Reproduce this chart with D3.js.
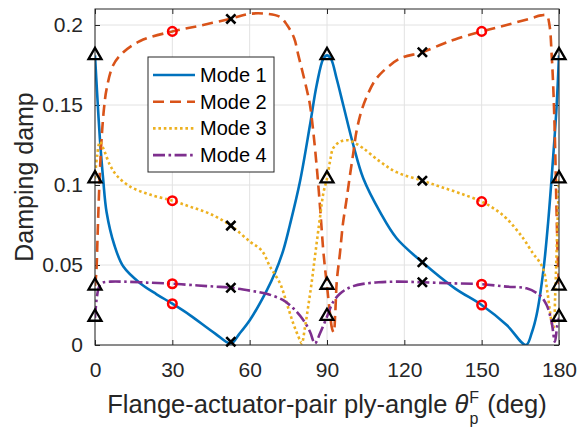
<!DOCTYPE html>
<html><head><meta charset="utf-8">
<script src="https://cdn.jsdelivr.net/npm/d3@7"></script>
<style>
body{margin:0;background:#fff;}
text{font-family:"Liberation Sans",Arial,Helvetica,sans-serif;}
</style></head>
<body><svg id="chart" width="577" height="433"></svg>
<script>
// ---------- data ----------
const modeNames = ["Mode 1","Mode 2","Mode 3","Mode 4"];
const modeColors = ["#0072BD","#D95319","#EDB120","#7E2F8E"];

const mode1Angle = [0,0.8,1.9,3.2,4.5,7.5,11,17.5,23.9,30,36.8,46.5,52.7,56,60.1,66.6,69.8,73,75.6,79.5,83.4,86,88.6,90,91.5,93.7,96.3,100.2,104.1,110.6,117,127,139.6,150,159.7,167.2,169.5,171.3,173.9,175.8,177.8,179.1,180];
const mode1Damp  = [0.181,0.158,0.129,0.103,0.083,0.0625,0.049,0.0386,0.0317,0.0258,0.0187,0.0073,0.001,0.007,0.0156,0.034,0.045,0.059,0.075,0.102,0.1375,0.1625,0.179,0.181,0.179,0.1667,0.15,0.125,0.104,0.083,0.0667,0.0517,0.0354,0.025,0.0125,0.0,0.008,0.0187,0.046,0.077,0.119,0.15,0.181];

const mode2Angle = [0,0.5,1.0,1.5,2.0,2.6,3.5,4.5,7.1,11,17.5,30,40.7,52.7,60.1,66.6,71.8,74.5,77.2,78.9,80.3,82.1,83.4,84.7,86.2,87.5,88.5,89.3,90,91,92,92.6,93.2,93.8,95,96.2,97.5,98.9,100.2,101.5,103.5,105.9,108.5,111.7,118.3,127,134.6,139.6,150,159.7,168.7,173,175.2,176.3,177.2,177.8,178.4,179.1,179.6,180];
const mode2Damp  = [0.037,0.045,0.068,0.092,0.112,0.13,0.148,0.16,0.175,0.183,0.19,0.196,0.1996,0.204,0.207,0.207,0.205,0.2,0.192,0.181,0.172,0.16,0.15,0.133,0.108,0.082,0.06,0.047,0.037,0.022,0.01,0.008,0.02,0.04,0.057,0.076,0.09,0.106,0.12,0.134,0.147,0.157,0.165,0.171,0.179,0.183,0.188,0.191,0.196,0.2,0.204,0.206,0.206,0.2,0.18,0.16,0.13,0.08,0.05,0.037];

const mode3Angle = [0,0.8,1.9,3.2,5.8,8.4,13.6,21.3,30,36.8,44.6,52.7,60.1,64.7,67.9,71.8,74.4,76.9,79.5,80.2,81.5,82.7,84,85.3,87.3,88.6,90,91.2,92.4,95,98,100,104,110.6,117,127,133.8,141.6,150,155,159.7,166.1,170,172,174,175.5,176.5,177.3,177.9,178.5,179.2,180];
const mode3Damp  = [0.104,0.118,0.127,0.123,0.1125,0.106,0.099,0.094,0.0902,0.0865,0.082,0.0746,0.0646,0.059,0.049,0.0385,0.026,0.0135,0.003,0.001,0.0115,0.024,0.0385,0.055,0.08,0.095,0.104,0.115,0.123,0.127,0.128,0.127,0.123,0.1146,0.108,0.1027,0.099,0.0948,0.0896,0.085,0.079,0.0667,0.057,0.053,0.047,0.033,0.021,0.013,0.011,0.03,0.065,0.104];

const mode4Angle = [0,0.65,1.3,1.9,3,6,11,20,30,40,46.5,52.7,60.1,66.6,73,76.9,80.8,83.4,85.3,87.3,90,92.4,95,97.6,100.2,104,110,117,127,139.6,150,159.7,167.4,172.6,175.2,177.1,178.4,179.3,180];
const mode4Damp  = [0.017,0.029,0.035,0.0375,0.039,0.0396,0.0396,0.039,0.0383,0.0372,0.0365,0.0358,0.034,0.032,0.028,0.023,0.0156,0.0083,0.001,0.0073,0.0177,0.027,0.032,0.035,0.0368,0.0382,0.0392,0.0396,0.0392,0.0385,0.038,0.0365,0.0354,0.031,0.025,0.0146,0.002,0.012,0.017];

// marker points: one value per mode at each angle
const triangleAngles = [0,90,180];
const triangleDamp   = [[0.181,0.037,0.104,0.0175],[0.181,0.0375,0.104,0.018],[0.181,0.037,0.104,0.0175]];
const circleAngles   = [30,150];
const circleDamp     = [[0.0258,0.196,0.0902,0.0383],[0.025,0.196,0.0896,0.038]];
const crossAngles    = [52.7,127];
const crossDamp      = [[0.002,0.2038,0.0746,0.0358],[0.0517,0.183,0.1027,0.0392]];

const xTicks = [0,30,60,90,120,150,180];
const yTicks = [0,0.05,0.1,0.15,0.2];
const yTickLabels = ["0","0.05","0.1","0.15","0.2"];

// ---------- drawing ----------
const L=95,R=559,T=9,B=345;
const svg = d3.select("#chart");
const x = d3.scaleLinear().domain([0,180]).range([L,R]);
const y = d3.scaleLinear().domain([0,0.21]).range([B,T]);
const axisColor = "#262626";

// grid
const grid = svg.append("g");
grid.selectAll("line.gx").data(xTicks).join("line")
  .attr("x1",d=>x(d)).attr("x2",d=>x(d)).attr("y1",T).attr("y2",B)
  .attr("stroke","#e2e2e2").attr("stroke-width",1);
grid.selectAll("line.gy").data(yTicks).join("line")
  .attr("y1",d=>y(d)).attr("y2",d=>y(d)).attr("x1",L).attr("x2",R)
  .attr("stroke","#e2e2e2").attr("stroke-width",1);

// axes
function styleAxis(g){
  g.select(".domain").remove();
  g.selectAll(".tick line").attr("stroke",axisColor).attr("stroke-width",1);
  g.selectAll(".tick text").attr("fill",axisColor).style("font-size","21px");
}
svg.append("g").attr("transform",`translate(0,${B})`)
  .call(d3.axisBottom(x).tickValues(xTicks).tickSizeInner(-5).tickSizeOuter(0).tickPadding(17).tickFormat(d3.format("d")))
  .call(styleAxis);
svg.append("g").attr("transform",`translate(0,${T})`)
  .call(d3.axisTop(x).tickValues(xTicks).tickSizeInner(-5).tickSizeOuter(0).tickFormat(""))
  .call(styleAxis);
svg.append("g").attr("transform",`translate(${L},0)`)
  .call(d3.axisLeft(y).tickValues(yTicks).tickSizeInner(-5).tickSizeOuter(0).tickPadding(12).tickFormat((d,i)=>yTickLabels[i]))
  .call(styleAxis);
svg.append("g").attr("transform",`translate(${R},0)`)
  .call(d3.axisRight(y).tickValues(yTicks).tickSizeInner(-5).tickSizeOuter(0).tickFormat(""))
  .call(styleAxis);

// clip
svg.append("defs").append("clipPath").attr("id","clip")
  .append("rect").attr("x",L).attr("y",T).attr("width",R-L).attr("height",B-T);

const series = [
  {a:mode1Angle,v:mode1Damp,dash:null},
  {a:mode2Angle,v:mode2Damp,dash:"11,6"},
  {a:mode3Angle,v:mode3Damp,dash:"2.6,2.8"},
  {a:mode4Angle,v:mode4Damp,dash:"12,3.5,2.6,3.5"}
];
const line = d3.line().x(d=>x(d[0])).y(d=>y(d[1])).curve(d3.curveCatmullRom.alpha(0.5));
const lines = svg.append("g").attr("clip-path","url(#clip)");
series.forEach((s,i)=>{
  lines.append("path").datum(s.a.map((a,k)=>[a,s.v[k]]))
    .attr("d",line).attr("fill","none").attr("stroke",modeColors[i])
    .attr("stroke-width",2.6).attr("stroke-dasharray",s.dash);
});

// box
svg.append("rect").attr("x",L).attr("y",T).attr("width",R-L).attr("height",B-T)
  .attr("fill","none").attr("stroke",axisColor).attr("stroke-width",1);

// markers
const mk = svg.append("g");
triangleAngles.forEach((a,i)=>triangleDamp[i].forEach(v=>{
  const cx=x(a), cy=y(v), r=7.5;
  mk.append("path").attr("d",`M${cx},${cy-r}L${cx+r*0.866},${cy+r*0.5}L${cx-r*0.866},${cy+r*0.5}Z`)
    .attr("fill","none").attr("stroke","#000").attr("stroke-width",2.3).attr("stroke-linejoin","miter");
}));
circleAngles.forEach((a,i)=>circleDamp[i].forEach(v=>{
  mk.append("circle").attr("cx",x(a)).attr("cy",y(v)).attr("r",4.3)
    .attr("fill","none").attr("stroke","#ff0000").attr("stroke-width",2.5);
}));
crossAngles.forEach((a,i)=>crossDamp[i].forEach(v=>{
  const cx=x(a), cy=y(v), h=4.6;
  mk.append("path").attr("d",`M${cx-h},${cy-h}L${cx+h},${cy+h}M${cx-h},${cy+h}L${cx+h},${cy-h}`)
    .attr("stroke","#000").attr("stroke-width",2.6);
}));

// legend
const lg = svg.append("g");
lg.append("rect").attr("x",148).attr("y",57).attr("width",126).attr("height",115)
  .attr("fill","#fff").attr("stroke",axisColor).attr("stroke-width",1);
modeNames.forEach((n,i)=>{
  const yy = 75 + i*26.7;
  lg.append("line").attr("x1",153).attr("x2",195).attr("y1",yy).attr("y2",yy)
    .attr("stroke",modeColors[i]).attr("stroke-width",2.6).attr("stroke-dasharray",series[i].dash);
  lg.append("text").attr("x",200).attr("y",yy).attr("dy","0.35em").style("font-size","20px")
    .attr("fill","#000").text(n);
});

// axis labels
svg.append("text").attr("transform","translate(33,177) rotate(-90)").attr("text-anchor","middle")
  .style("font-size","25px").attr("fill",axisColor).text("Damping damp");
const xl = svg.append("text").attr("x",(L+R)/2).attr("y",413).attr("text-anchor","middle")
  .style("font-size","25.5px").attr("fill",axisColor);
xl.append("tspan").text("Flange-actuator-pair ply-angle ");
xl.append("tspan").style("font-style","italic").text("θ");
xl.append("tspan").style("font-size","16px").attr("dx",1).attr("dy",10.5).text("p");
xl.append("tspan").style("font-size","16px").attr("dx",-9).attr("dy",-20.5).text("F");
xl.append("tspan").attr("dx",1).attr("dy",10).text(" (deg)");
</script></body></html>
